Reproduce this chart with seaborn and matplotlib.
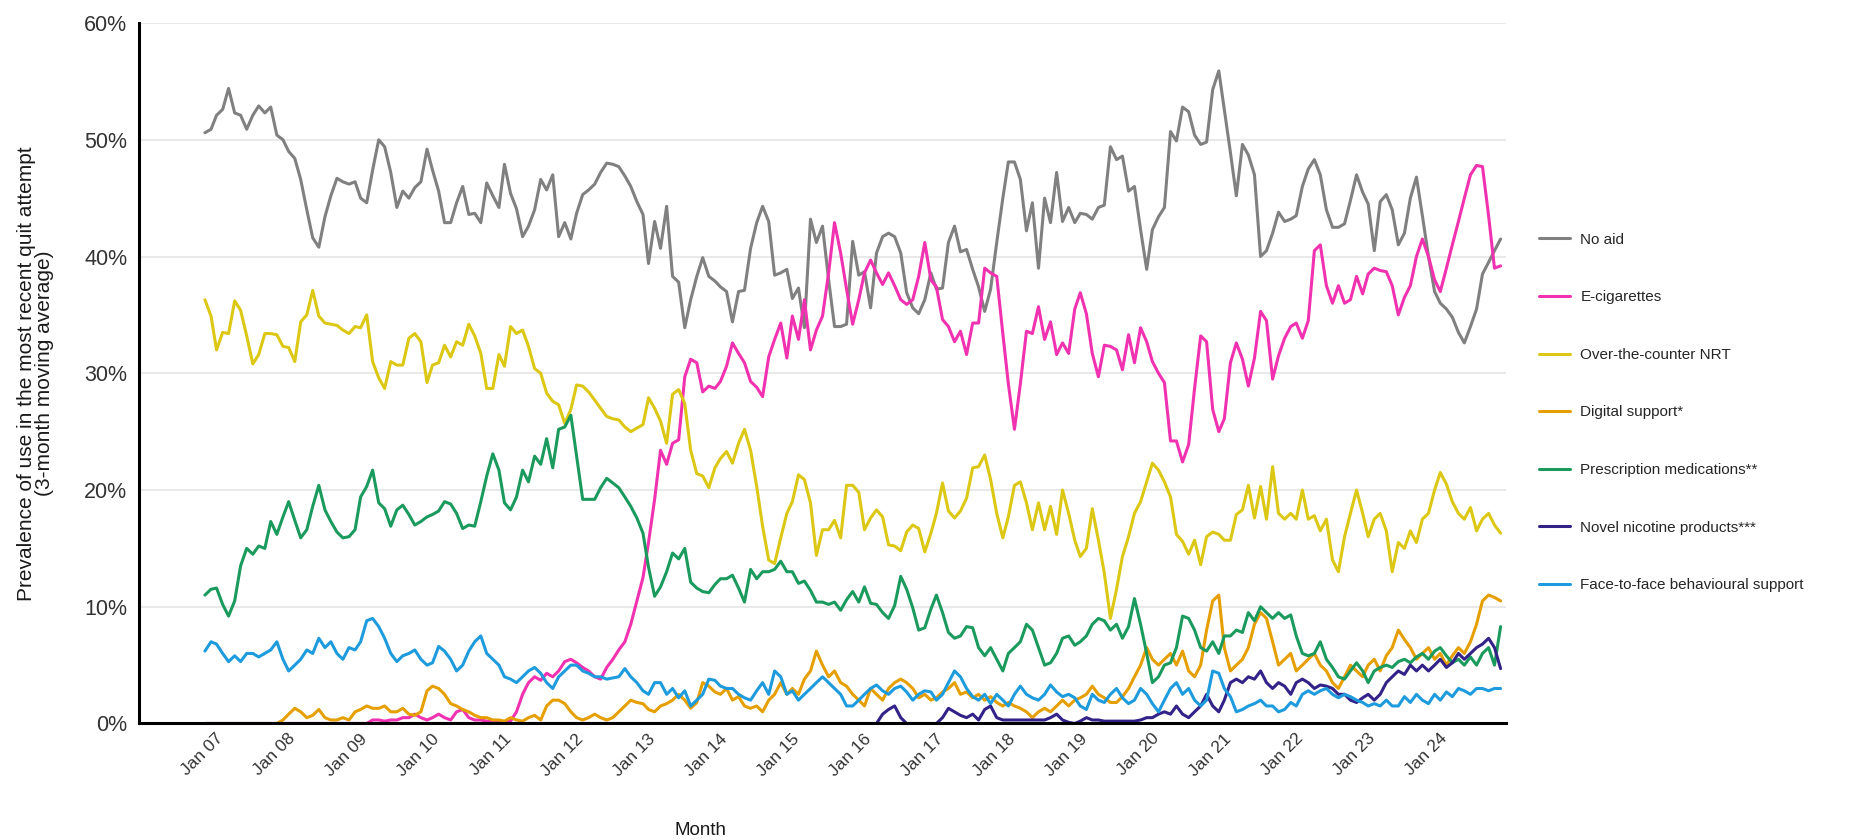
import numpy as np
import pandas as pd
import matplotlib
matplotlib.use("Agg")
import matplotlib.pyplot as plt
import matplotlib.dates as mdates
from matplotlib.transforms import ScaledTranslation
import seaborn as sns

# monthly, Jan 2007 .. Jan 2025 (3-month moving averages, %)
months = pd.date_range("2007-01-01", periods=217, freq="MS")

no_aid = [
    50.6, 50.9, 52.1, 52.6, 54.4, 52.3, 52.1, 50.9, 52.1, 52.9, 52.3, 52.8,
    50.4, 50.0, 49.0, 48.4, 46.6, 44.0, 41.6, 40.8, 43.4, 45.2, 46.7, 46.4,
    46.2, 46.4, 45.0, 44.6, 47.4, 50.0, 49.4, 47.2, 44.2, 45.6, 45.0, 45.9,
    46.4, 49.2, 47.4, 45.6, 42.9, 42.9, 44.6, 46.0, 43.6, 43.7, 42.9, 46.3,
    45.2, 44.2, 47.9, 45.4, 44.1, 41.7, 42.6, 44.0, 46.6, 45.7, 47.0, 41.7,
    42.9, 41.5, 43.7, 45.3, 45.7, 46.2, 47.2, 48.0, 47.9, 47.7, 46.9, 46.0,
    44.7, 43.6, 39.4, 43.0, 40.7, 44.3, 38.3, 37.8, 33.9, 36.3, 38.3, 39.9,
    38.3, 37.9, 37.4, 37.0, 34.4, 37.0, 37.1, 40.7, 42.9, 44.3, 43.0, 38.4,
    38.6, 38.9, 36.4, 37.3, 33.9, 43.2, 41.2, 42.6, 38.0, 34.0, 34.0, 34.2,
    41.3, 38.4, 38.7, 35.6, 40.3, 41.7, 42.0, 41.7, 40.3, 36.9, 35.6, 35.1,
    36.3, 38.6, 37.2, 37.3, 41.2, 42.6, 40.4, 40.6, 38.9, 37.4, 35.3, 37.2,
    41.2, 45.0, 48.1, 48.1, 46.6, 42.2, 44.6, 39.0, 45.0, 42.9, 47.2, 43.0,
    44.2, 42.9, 43.7, 43.6, 43.2, 44.2, 44.4, 49.4, 48.3, 48.6, 45.6, 46.0,
    42.3, 38.9, 42.3, 43.4, 44.2, 50.7, 49.9, 52.8, 52.4, 50.4, 49.6, 49.8,
    54.3, 55.9, 52.6, 48.9, 45.2, 49.6, 48.7, 47.0, 40.0, 40.5, 42.0, 43.8,
    43.0, 43.2, 43.5, 46.0, 47.5, 48.3, 47.0, 44.0, 42.5, 42.5, 42.8, 44.8,
    47.0, 45.5, 44.5, 40.5, 44.7, 45.3, 44.0, 41.0, 42.0, 45.0, 46.8, 43.5,
    40.0, 37.0, 36.0, 35.5, 34.8, 33.5, 32.6, 34.0, 35.5, 38.5, 39.5, 40.5,
    41.5,
]

e_cigarettes = [0.0] * 28 + [
    0.3, 0.3, 0.2, 0.3, 0.3, 0.5, 0.5, 0.8,
    0.5, 0.3, 0.5, 0.8, 0.5, 0.3, 1.0, 1.2, 0.5, 0.3, 0.3, 0.2,
    0.2, 0.2, 0.1, 0.2, 1.0, 2.5, 3.5, 4.0, 3.7, 4.3, 4.0, 4.5,
    5.3, 5.5, 5.2, 4.8, 4.5, 4.0, 3.8, 4.8, 5.5, 6.3, 7.0, 8.5,
    10.5, 12.5, 15.5, 19.2, 23.4, 22.2, 24.0, 24.3, 29.7, 31.2, 30.9, 28.4,
    28.9, 28.7, 29.3, 30.6, 32.6, 31.7, 30.9, 29.3, 28.8, 28.0, 31.4, 32.9,
    34.3, 31.3, 34.9, 32.9, 36.3, 32.0, 33.7, 34.9, 38.6, 42.9, 40.3, 37.2,
    34.2, 36.3, 38.6, 39.7, 38.6, 37.6, 38.6, 37.5, 36.3, 35.9, 36.3, 38.3,
    41.2, 38.0, 37.4, 34.6, 34.0, 32.7, 33.6, 31.6, 34.3, 34.3, 39.0, 38.6,
    38.3, 33.4, 29.1, 25.2, 29.1, 33.6, 33.4, 35.7, 32.9, 34.4, 31.6, 32.6,
    31.7, 35.5, 36.9, 35.1, 31.7, 29.7, 32.4, 32.3, 32.0, 30.3, 33.3, 30.9,
    33.9, 32.7, 31.0, 30.0, 29.2, 24.2, 24.2, 22.4, 23.9, 28.7, 33.2, 32.7,
    26.9, 25.0, 26.1, 30.9, 32.6, 31.2, 28.9, 31.3, 35.3, 34.5, 29.5, 31.5,
    33.0, 34.0, 34.3, 33.0, 34.5, 40.5, 41.0, 37.5, 36.0, 37.5, 36.0, 36.3,
    38.3, 36.8, 38.5, 39.0, 38.8, 38.7, 37.5, 35.0, 36.5, 37.5, 40.0, 41.5,
    40.0, 38.0, 37.0, 39.0, 41.0, 43.0, 45.0, 47.0, 47.8, 47.7, 43.5, 39.0,
    39.2,
]

otc_nrt = [
    36.3, 34.9, 32.0, 33.5, 33.4, 36.2, 35.4, 33.2, 30.8, 31.6, 33.4, 33.4,
    33.3, 32.3, 32.2, 31.0, 34.4, 35.0, 37.1, 34.9, 34.3, 34.2, 34.1, 33.7,
    33.4, 34.0, 33.9, 35.0, 31.0, 29.6, 28.7, 31.0, 30.7, 30.7, 33.0, 33.4,
    32.7, 29.2, 30.7, 30.9, 32.4, 31.4, 32.7, 32.4, 34.2, 33.2, 31.7, 28.7,
    28.7, 31.6, 30.6, 34.0, 33.4, 33.7, 32.3, 30.4, 30.0, 28.3, 27.6, 27.3,
    25.7, 26.9, 29.0, 28.9, 28.4, 27.7, 27.0, 26.3, 26.1, 26.0, 25.4, 25.0,
    25.3, 25.6, 27.9, 27.0, 25.9, 24.0, 28.2, 28.6, 27.4, 23.4, 21.4, 21.2,
    20.2, 21.9, 22.7, 23.3, 22.3, 24.0, 25.2, 23.4, 20.3, 16.9, 14.0, 13.7,
    15.9, 18.0, 19.0, 21.3, 20.9, 18.9, 14.4, 16.6, 16.6, 17.4, 15.9, 20.4,
    20.4, 19.8, 16.6, 17.6, 18.3, 17.7, 15.3, 15.2, 14.8, 16.4, 17.0, 16.7,
    14.7, 16.3, 18.0, 20.6, 18.2, 17.6, 18.2, 19.3, 21.9, 22.0, 23.0, 20.9,
    18.0, 15.9, 17.7, 20.4, 20.7, 18.9, 16.6, 18.9, 16.6, 18.6, 16.2, 20.0,
    18.0, 15.7, 14.3, 15.0, 18.4, 15.7, 12.9, 9.0, 11.5, 14.3, 16.0, 18.0,
    19.0, 20.7, 22.3, 21.7, 20.7, 19.4, 16.2, 15.6, 14.5, 15.7, 13.6, 16.0,
    16.4, 16.2, 15.7, 15.7, 17.9, 18.3, 20.4, 17.6, 20.3, 17.5, 22.0, 18.0,
    17.5, 18.0, 17.5, 20.0, 17.5, 17.8, 16.5, 17.5, 14.0, 13.0, 16.0, 18.0,
    20.0, 18.0, 16.0, 17.5, 18.0, 16.5, 13.0, 15.5, 15.0, 16.5, 15.5, 17.5,
    18.0, 20.0, 21.5, 20.5, 19.0, 18.0, 17.5, 18.5, 16.5, 17.5, 18.0, 17.0,
    16.3,
]

digital = [0.0] * 12 + [
    0.0, 0.3, 0.8, 1.3, 1.0, 0.5, 0.7, 1.2, 0.5, 0.3, 0.3, 0.5,
    0.3, 1.0, 1.2, 1.5, 1.3, 1.3, 1.5, 1.0, 1.0, 1.3, 0.8, 0.7,
    1.0, 2.8, 3.2, 3.0, 2.5, 1.7, 1.5, 1.2, 1.0, 0.7, 0.5, 0.5,
    0.3, 0.3, 0.2, 0.5, 0.3, 0.2, 0.5, 0.7, 0.3, 1.5, 2.0, 2.0,
    1.7, 1.0, 0.5, 0.3, 0.5, 0.8, 0.5, 0.3, 0.5, 1.0, 1.5, 2.0,
    1.8, 1.7, 1.2, 1.0, 1.5, 1.7, 2.0, 2.5, 2.0, 1.3, 1.8, 3.5,
    3.2, 2.7, 2.5, 3.0, 2.0, 2.3, 1.5, 1.3, 1.5, 1.0, 2.0, 2.5,
    3.5, 2.5, 3.0, 2.5, 3.8, 4.5, 6.2, 5.0, 4.0, 4.5, 3.5, 3.2,
    2.5, 2.0, 1.5, 3.0, 2.5, 2.0, 3.0, 3.5, 3.8, 3.5, 3.0, 2.2,
    2.5, 2.0, 2.2, 2.7, 3.0, 3.5, 2.5, 2.7, 2.2, 2.5, 2.0, 2.3,
    1.8, 1.5, 1.8, 1.5, 1.3, 1.0, 0.5, 1.0, 1.3, 1.0, 1.5, 2.0,
    1.5, 2.0, 2.2, 2.5, 3.2, 2.5, 2.2, 1.8, 1.8, 2.3, 3.0, 4.0,
    5.0, 6.5, 5.5, 5.0, 5.5, 6.0, 5.0, 6.2, 4.5, 4.0, 5.0, 8.0,
    10.5, 11.0, 6.5, 4.5, 5.0, 5.5, 6.5, 8.5, 9.5, 9.0, 7.0, 5.0,
    5.5, 6.0, 4.5, 5.0, 5.5, 6.0, 5.0, 4.5, 3.5, 3.0, 4.0, 5.0,
    4.5, 4.0, 5.0, 5.5, 4.5, 5.8, 6.5, 8.0, 7.2, 6.5, 5.5, 6.0,
    6.5, 5.5, 6.0, 5.0, 5.8, 6.5, 6.0, 7.0, 8.5, 10.5, 11.0, 10.8,
    10.5,
]

prescription = [
    11.0, 11.5, 11.6, 10.2, 9.2, 10.5, 13.5, 15.0, 14.5, 15.2, 15.0, 17.3,
    16.2, 17.7, 19.0, 17.4, 15.9, 16.6, 18.6, 20.4, 18.3, 17.3, 16.4, 15.9,
    16.0, 16.6, 19.4, 20.3, 21.7, 18.9, 18.4, 16.9, 18.3, 18.7, 17.9, 17.0,
    17.3, 17.7, 17.9, 18.2, 19.0, 18.8, 18.0, 16.7, 17.0, 16.9, 19.0, 21.2,
    23.1, 21.7, 18.9, 18.3, 19.4, 21.7, 20.7, 22.9, 22.2, 24.4, 21.9, 25.2,
    25.4, 26.4, 22.9, 19.2, 19.2, 19.2, 20.2, 21.0, 20.6, 20.2, 19.4, 18.6,
    17.6, 16.3, 13.4, 10.9, 11.7, 13.0, 14.6, 14.1, 15.0, 12.1, 11.6, 11.3,
    11.2, 11.9, 12.4, 12.4, 12.7, 11.6, 10.4, 13.2, 12.4, 13.0, 13.0, 13.2,
    13.9, 13.0, 13.0, 12.0, 12.2, 11.4, 10.4, 10.4, 10.2, 10.4, 9.7, 10.6,
    11.3, 10.4, 11.7, 10.3, 10.2, 9.5, 9.0, 10.1, 12.6, 11.5, 9.9, 8.0,
    8.2, 9.8, 11.0, 9.5, 7.8, 7.3, 7.5, 8.3, 8.2, 6.5, 5.8, 6.5,
    5.5, 4.5, 6.0, 6.5, 7.0, 8.5, 8.0, 6.5, 5.0, 5.2, 6.0, 7.3,
    7.5, 6.7, 7.0, 7.5, 8.5, 9.0, 8.8, 8.0, 8.5, 7.3, 8.3, 10.7,
    8.5, 6.0, 3.5, 4.0, 5.0, 5.2, 6.5, 9.2, 9.0, 8.0, 6.5, 6.2,
    7.0, 6.0, 7.5, 7.5, 8.0, 7.8, 9.5, 8.8, 10.0, 9.5, 9.0, 9.5,
    9.0, 9.3, 7.5, 6.0, 5.8, 6.0, 7.0, 5.5, 4.8, 4.0, 3.8, 4.5,
    5.2, 4.5, 3.5, 4.5, 4.8, 5.0, 4.8, 5.3, 5.5, 5.2, 5.7, 6.0,
    5.5, 6.2, 6.5, 5.8, 5.2, 5.5, 5.0, 5.7, 5.0, 6.0, 6.5, 5.0,
    8.3,
]

novel_nicotine = [0.0] * 108 + [
    0.0, 0.0, 0.0, 0.0, 0.0, 0.8, 1.2, 1.5, 0.5, 0.0, 0.0, 0.0,
    0.0, 0.0, 0.0, 0.5, 1.3, 1.0, 0.7, 0.5, 0.8, 0.3, 1.2, 1.5,
    0.5, 0.3, 0.3, 0.3, 0.3, 0.3, 0.3, 0.3, 0.3, 0.5, 0.8, 0.3,
    0.1, 0.0, 0.2, 0.5, 0.3, 0.3, 0.2, 0.2, 0.2, 0.2, 0.2, 0.2,
    0.3, 0.5, 0.5, 0.8, 1.0, 0.8, 1.5, 0.8, 0.5, 1.0, 1.5, 2.5,
    1.5, 1.0, 2.0, 3.5, 3.8, 3.5, 4.0, 3.8, 4.5, 3.5, 3.0, 3.5,
    3.2, 2.5, 3.5, 3.8, 3.5, 3.0, 3.3, 3.2, 3.0, 2.5, 2.5, 2.0,
    1.8, 2.2, 2.5, 2.0, 2.5, 3.5, 4.0, 4.5, 4.2, 5.0, 4.5, 5.0,
    4.5, 5.0, 5.5, 4.8, 5.2, 6.0, 5.5, 6.0, 6.5, 6.8, 7.3, 6.5,
    4.7,
]

face_to_face = [
    6.2, 7.0, 6.8, 6.0, 5.3, 5.8, 5.3, 6.0, 6.0, 5.7, 6.0, 6.3,
    7.0, 5.5, 4.5, 5.0, 5.5, 6.3, 6.0, 7.3, 6.5, 7.0, 6.0, 5.5,
    6.5, 6.3, 7.0, 8.8, 9.0, 8.3, 7.3, 6.0, 5.3, 5.8, 6.0, 6.3,
    5.5, 5.0, 5.2, 6.6, 6.2, 5.5, 4.5, 5.0, 6.2, 7.0, 7.5, 6.0,
    5.5, 5.0, 4.0, 3.8, 3.5, 4.0, 4.5, 4.8, 4.3, 3.5, 3.0, 4.0,
    4.5, 5.0, 5.0, 4.5, 4.3, 4.0, 4.0, 3.8, 3.9, 4.0, 4.7, 4.0,
    3.5, 2.8, 2.5, 3.5, 3.5, 2.5, 3.0, 2.2, 2.8, 1.5, 2.0, 2.5,
    3.8, 3.7, 3.2, 3.0, 3.0, 2.5, 2.2, 2.0, 2.8, 3.5, 2.5, 4.5,
    4.0, 2.5, 2.8, 2.0, 2.5, 3.0, 3.5, 4.0, 3.5, 3.0, 2.5, 1.5,
    1.5, 2.0, 2.5, 3.0, 3.3, 2.8, 2.5, 3.0, 3.2, 2.7, 2.0, 2.5,
    2.8, 2.7, 2.0, 2.5, 3.5, 4.5, 4.0, 3.0, 2.3, 2.0, 2.5, 1.7,
    2.5, 2.0, 1.5, 2.5, 3.2, 2.5, 2.2, 2.0, 2.5, 3.3, 2.7, 2.3,
    2.5, 2.2, 1.5, 1.2, 2.5, 2.0, 1.8, 2.5, 3.0, 2.2, 1.7, 2.0,
    3.0, 2.5, 1.7, 1.0, 2.0, 3.0, 3.5, 2.5, 3.0, 2.0, 1.5, 2.0,
    4.5, 4.3, 3.0, 2.3, 1.0, 1.2, 1.5, 1.7, 2.0, 1.5, 1.5, 1.0,
    1.2, 1.8, 1.5, 2.5, 2.8, 2.5, 2.8, 3.0, 2.5, 2.2, 2.5, 2.3,
    2.0, 1.8, 1.5, 1.7, 1.5, 2.0, 1.5, 1.5, 2.3, 1.8, 2.5, 2.0,
    1.7, 2.5, 2.0, 2.7, 2.3, 3.0, 2.8, 2.5, 3.0, 3.0, 2.8, 3.0,
    3.0,
]

aid_names = [
    "No aid",
    "E-cigarettes",
    "Over-the-counter NRT",
    "Digital support*",
    "Prescription medications**",
    "Novel nicotine products***",
    "Face-to-face behavioural support",
]
aid_colours = ["#808080", "#F032B0", "#DCC814", "#E69F00", "#1B9A5E", "#332288", "#1E9BDC"]
year_ticks = pd.date_range("2007-01-01", "2024-01-01", freq="YS")
year_labels = [d.strftime("Jan %y") for d in year_ticks]

all_series = [no_aid, e_cigarettes, otc_nrt, digital, prescription, novel_nicotine, face_to_face]
df = pd.concat(
    [pd.DataFrame({"Month": months, "value": vals, "aid": name})
     for name, vals in zip(aid_names, all_series)],
    ignore_index=True,
)

sns.set_theme(style="white")
plt.rcParams["font.family"] = ["Liberation Sans", "DejaVu Sans"]

fig = plt.figure(figsize=(18.75, 8.4), dpi=100)
ax = fig.add_axes([0.0741, 0.1387, 0.7291, 0.8339])

sns.lineplot(data=df, x="Month", y="value", hue="aid", hue_order=aid_names,
             palette=aid_colours, linewidth=2.2, ax=ax)

# axes styling, ggplot classic look
ax.set_ylim(0, 60)
ax.set_yticks(range(0, 61, 10))
ax.set_yticklabels([f"{v}%" for v in range(0, 61, 10)])
ax.yaxis.grid(True, color="#E5E5E5", linewidth=1.2)
ax.set_axisbelow(True)
month_len = 30.44
x0 = mdates.date2num(months[0])
x1 = mdates.date2num(months[-1])
ax.set_xlim(x0 - 11 * month_len, x1 + 0.9 * month_len)
ax.set_xticks(year_ticks)
ax.set_xticklabels(year_labels, rotation=45, ha="right", rotation_mode="anchor")

for side in ["top", "right"]:
    ax.spines[side].set_visible(False)
for side in ["left", "bottom"]:
    ax.spines[side].set_color("black")
    ax.spines[side].set_linewidth(2.2)
ax.tick_params(axis="both", which="both", length=5, width=1, color="black",
               labelcolor="#333333", direction="out")
ax.tick_params(axis="y", labelsize=15.5)
ax.tick_params(axis="x", labelsize=12.5, pad=4)
shift = ScaledTranslation(0.11, 0.05, fig.dpi_scale_trans)
for lab in ax.get_xticklabels():
    lab.set_transform(lab.get_transform() + shift)

ax.set_xlabel("Month", fontsize=13.5, color="#1A1A1A")
ax.xaxis.set_label_coords(0.411, -0.14)
ax.set_ylabel("Prevalence of use in the most recent quit attempt\n(3-month moving average)",
              fontsize=15, color="#1A1A1A", linespacing=0.95)
ax.yaxis.set_label_coords(-0.062, 0.5)

handles, labels = ax.get_legend_handles_labels()
ax.legend(handles, labels, loc="center left", bbox_to_anchor=(0.8135, 0.509),
          bbox_transform=fig.transFigure, frameon=False, fontsize=11,
          handlelength=2.0, labelspacing=2.85, handletextpad=0.7)
for line in ax.get_legend().get_lines():
    line.set_linewidth(2.2)

fig.savefig("out.png", dpi=100)
